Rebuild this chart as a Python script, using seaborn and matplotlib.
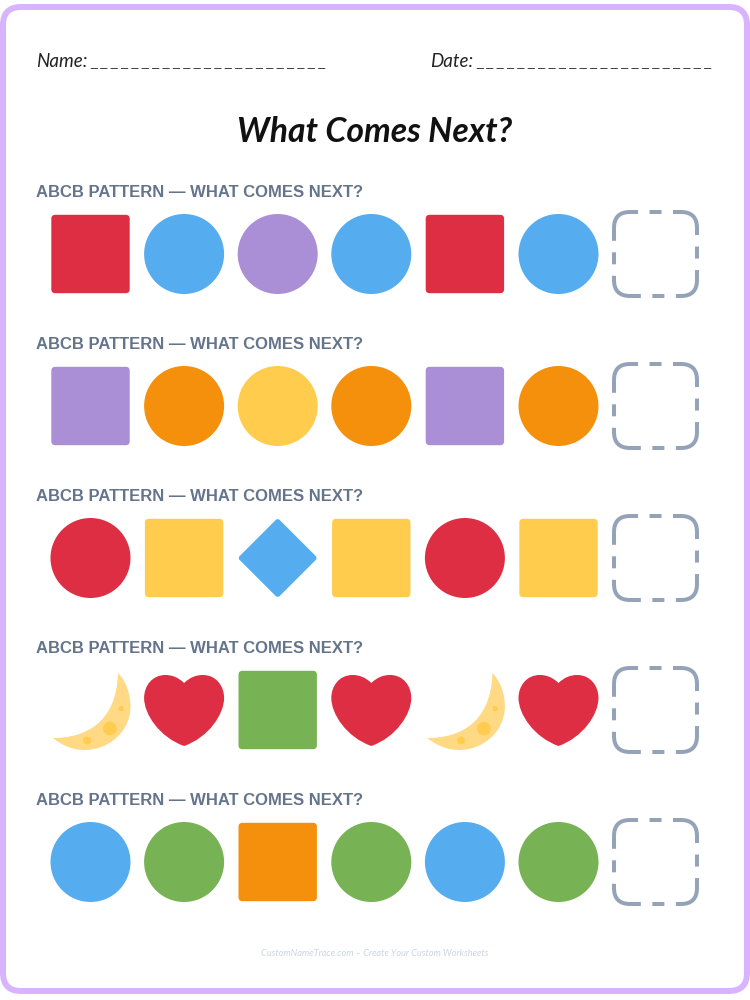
import matplotlib
matplotlib.use("Agg")
import matplotlib.pyplot as plt
import pandas as pd
import seaborn as sns
from matplotlib.patches import FancyBboxPatch
from matplotlib.path import Path

# pattern rows, left to right, the last slot stays empty
row_shapes = [
    ["square", "circle", "circle", "circle", "square", "circle"],
    ["square", "circle", "circle", "circle", "square", "circle"],
    ["circle", "square", "diamond", "square", "circle", "square"],
    ["moon", "heart", "square", "heart", "moon", "heart"],
    ["circle", "circle", "square", "circle", "circle", "circle"],
]
row_colors = [
    ["red", "blue", "purple", "blue", "red", "blue"],
    ["purple", "orange", "yellow", "orange", "purple", "orange"],
    ["red", "yellow", "blue", "yellow", "red", "yellow"],
    ["moon", "red", "green", "red", "moon", "red"],
    ["blue", "green", "orange", "green", "blue", "green"],
]
row_label = "ABCB PATTERN — WHAT COMES NEXT?"
title = "What Comes Next?"
footer = "CustomNameTrace.com – Create Your Custom Worksheets"

palette = {
    "red": "#DD2E44",
    "blue": "#55ACEE",
    "purple": "#AA8ED6",
    "orange": "#F4900C",
    "yellow": "#FFCC4D",
    "green": "#77B255",
    "moon": "#FFD983",
}
spot_color = "#FFCC4D"


def rounded_square(h=0.98, r=0.1):
    k = h - r
    verts = [(-k, -h), (k, -h), (h, -h), (h, -k), (h, k), (h, h), (k, h),
             (-k, h), (-h, h), (-h, k), (-h, -k), (-h, -h), (-k, -h), (-k, -h),
             (1, 1), (1, 1), (1, 1)]
    codes = [1, 2, 3, 3, 2, 3, 3, 2, 3, 3, 2, 3, 3, 79, 1, 2, 79]
    return Path(verts, codes)


def rounded_diamond(d=0.05):
    verts = [(1 - d, -d), (1, 0), (1 - d, d), (d, 1 - d), (0, 1), (-d, 1 - d),
             (-1 + d, d), (-1, 0), (-1 + d, -d), (-d, -1 + d), (0, -1), (d, -1 + d),
             (1 - d, -d), (1 - d, -d)]
    codes = [1, 3, 3, 2, 3, 3, 2, 3, 3, 2, 3, 3, 2, 79]
    return Path(verts, codes)


heart = Path(
    [(0, 0.675), (0.15, 0.82), (0.3, 0.875), (0.47, 0.875), (0.8, 0.875), (1, 0.6), (1, 0.3),
     (1, -0.1), (0.62, -0.68), (0, -0.9), (-0.62, -0.68), (-1, -0.1), (-1, 0.3),
     (-1, 0.6), (-0.8, 0.875), (-0.47, 0.875), (-0.3, 0.875), (-0.15, 0.82), (0, 0.675), (0, 0.675)],
    [1, 4, 4, 4, 4, 4, 4, 4, 4, 4, 4, 4, 4, 4, 4, 4, 4, 4, 4, 79],
)

moon = Path(
    [(0.69, 0.925), (0.9, 0.7), (1.0, 0.4), (1.0, 0.07), (0.98, -0.6), (0.4, -1.0), (-0.14, -1.0),
     (-0.45, -1.0), (-0.72, -0.88), (-0.94, -0.70), (-0.1, -0.7), (0.65, -0.3), (0.69, 0.925), (0.69, 0.925)],
    [1, 4, 4, 4, 4, 4, 4, 4, 4, 4, 4, 4, 4, 79],
)


def spot(cx, cy, r):
    c = Path.unit_circle()
    return Path(c.vertices * r + [cx, cy], c.codes)


moon_spots = Path.make_compound_path(
    spot(0.46, -0.45, 0.17), spot(-0.11, -0.75, 0.1), spot(0.74, 0.05, 0.065),
    Path([(1, 1), (1, 1), (1, 1)], [1, 2, 79]),
)

markers = {
    "circle": "o",
    "square": rounded_square(),
    "diamond": rounded_diamond(),
    "heart": heart,
    "moon": moon,
}

rows = []
for r, (shapes, colors) in enumerate(zip(row_shapes, row_colors)):
    for c, (sh, co) in enumerate(zip(shapes, colors)):
        rows.append({"row": r, "col": c, "shape": sh, "color": co})
df = pd.DataFrame(rows)

sns.set_theme(style="white")
plt.rcParams["lines.scale_dashes"] = False
fig = plt.figure(figsize=(7.5, 10), dpi=100)

# background layer in pixels, for frame, text and answer boxes
bg = fig.add_axes([0, 0, 1, 1])
bg.set_xlim(0, 750)
bg.set_ylim(1000, 0)
bg.axis("off")
bg.add_patch(FancyBboxPatch((3, 7), 744, 984, boxstyle="round,pad=0,rounding_size=18",
                            fc="white", ec="#D8B4FE", lw=6 * 0.72))

hand = "Lato"
bg.text(36, 67, "Name:", family=hand, style="italic", fontsize=13.5, color="#222222")
bg.text(430, 67, "Date:", family=hand, style="italic", fontsize=13.5, color="#222222")
blank = " ".join("_" * 23)
bg.text(90, 65, blank, family="Liberation Sans", fontsize=8.9, color="#222222")
bg.text(476, 65, blank, family="Liberation Sans", fontsize=8.9, color="#222222")
bg.text(375, 142, title, family=hand, style="italic", weight="bold", fontsize=24.3,
        color="#111111", ha="center")
bg.text(375, 956, footer, family=hand, style="italic", fontsize=6.7, color="#CBD5E1", ha="center")

dash = tuple(v * 0.72 for v in (41, 11.5, 12, 11.5))
for r in range(len(row_shapes)):
    top = 191 + 152 * r
    bg.text(36, top + 6, row_label, family="Liberation Sans", weight="bold", fontsize=12, color="#64748B")
    bg.add_patch(FancyBboxPatch((614, top + 21), 83, 84, boxstyle="round,pad=0,rounding_size=16",
                                fc="none", ec="#94A3B8", lw=4 * 0.72,
                                linestyle=(33 * 0.72, dash)))

# pattern layer, slots are 93.6 px wide and rows 152 px tall
ax = fig.add_axes([0, 0, 1, 1])
ax.patch.set_alpha(0)
size = (80 * 0.72) ** 2
sns.scatterplot(data=df, x="col", y="row", hue="color", style="shape", palette=palette,
                markers=markers, s=size, linewidth=0, legend=False, ax=ax)
moons = df[df["shape"] == "moon"]
ax.scatter(moons["col"], moons["row"], s=size, marker=moon_spots, color=spot_color, linewidth=0)
ax.set_xlim(-90.5 / 93.6, (750 - 90.5) / 93.6)
ax.set_ylim((1000 - 254) / 152, -254 / 152)
ax.axis("off")

fig.savefig("out.png", dpi=100)
